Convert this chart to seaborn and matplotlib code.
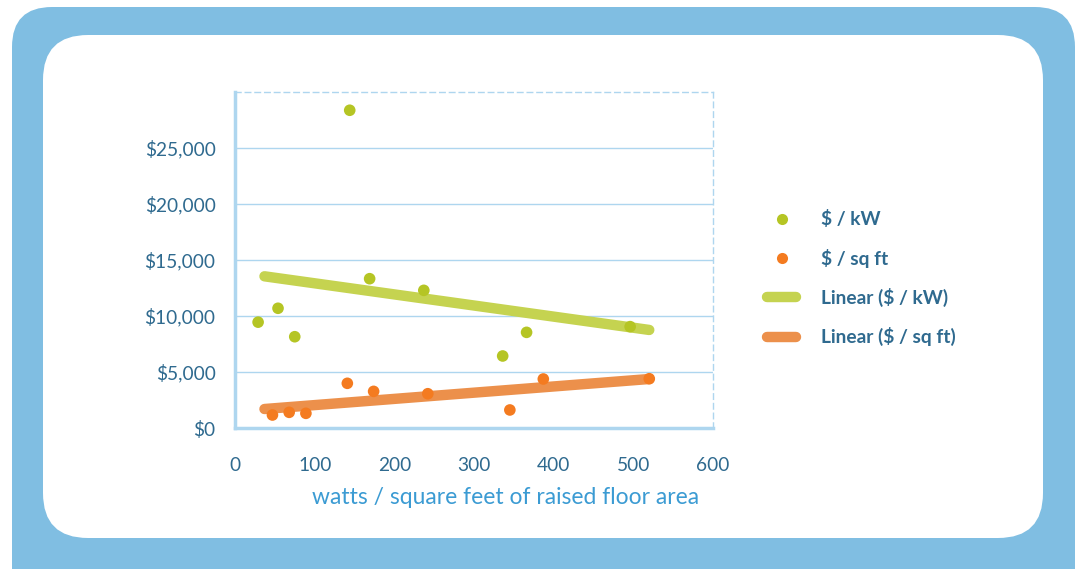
import numpy as np
import pandas as pd
import matplotlib
matplotlib.use("Agg")
import matplotlib.pyplot as plt
import seaborn as sns
from matplotlib.patches import FancyBboxPatch
from matplotlib.lines import Line2D
from matplotlib.ticker import FuncFormatter

# values
kw_watts = [29, 54, 75, 144, 169, 237, 336, 366, 496]
kw_cost = [9450, 10690, 8150, 28370, 13330, 12290, 6430, 8540, 9050]
sqft_watts = [47, 68, 89, 141, 174, 242, 345, 387, 520]
sqft_cost = [1160, 1400, 1310, 3990, 3270, 3060, 1610, 4375, 4400]

series_names = ["$ / kW", "$ / sq ft"]
trend_names = ["Linear ($ / kW)", "Linear ($ / sq ft)"]
x_ticks = [0, 100, 200, 300, 400, 500, 600]
y_ticks = [0, 5000, 10000, 15000, 20000, 25000]

point_colors = ["#b5c524", "#f47b20"]
trend_colors = ["#c5d350", "#ec904b"]
grid_blue = "#aed6ef"
text_blue = "#2f6a8f"

df = pd.concat([
    pd.DataFrame({"watts": kw_watts, "cost": kw_cost, "series": series_names[0]}),
    pd.DataFrame({"watts": sqft_watts, "cost": sqft_cost, "series": series_names[1]}),
])

sns.set_style("white")
plt.rcParams["font.family"] = ["Lato", "DejaVu Sans"]

fig = plt.figure(figsize=(10.8, 5.69), dpi=100)

# rounded blue frame behind the chart
bg = fig.add_axes([0, 0, 1, 1], zorder=-10)
bg.set_xlim(0, 1080)
bg.set_ylim(569, 0)
bg.axis("off")
bg.add_patch(FancyBboxPatch((12 + 40, 7 + 40), 1063 - 80, 650 - 80,
                            boxstyle="round,pad=40", fc="#80bee2", ec="none"))
bg.add_patch(FancyBboxPatch((43 + 45, 35 + 45), 1000 - 90, 503 - 90,
                            boxstyle="round,pad=45", fc="white", ec="none"))

ax = fig.add_axes([235 / 1080, 1 - 428 / 569, 478 / 1080, 336 / 569])
ax.set_facecolor("none")

# linear trendlines
all_x = np.array(kw_watts + sqft_watts)
xs = np.linspace(all_x.min() + 8, all_x.max(), 50)
for wx, cy, col in [(kw_watts, kw_cost, trend_colors[0]), (sqft_watts, sqft_cost, trend_colors[1])]:
    m, b = np.polyfit(wx, cy, 1)
    sns.lineplot(x=xs, y=m * xs + b, ax=ax, color=col, lw=7.5, solid_capstyle="round", zorder=2)

sns.scatterplot(data=df, x="watts", y="cost", hue="series", palette=point_colors,
                s=70, edgecolor="none", legend=False, ax=ax, zorder=3)

ax.set_xlim(0, 600)
ax.set_ylim(0, 30000)
ax.set_xticks(x_ticks)
ax.set_yticks(y_ticks)
ax.yaxis.set_major_formatter(FuncFormatter(lambda v, p: f"${v:,.0f}"))
ax.tick_params(length=0, labelsize=13.8, labelcolor=text_blue)
ax.tick_params(axis="y", pad=14)
ax.tick_params(axis="x", pad=21)
ax.grid(axis="y", color=grid_blue, lw=1)
ax.set_axisbelow(True)
for s in ["left", "bottom"]:
    ax.spines[s].set_color(grid_blue)
    ax.spines[s].set_linewidth(2.5)
for s in ["top", "right"]:
    ax.spines[s].set_visible(True)
    ax.spines[s].set_color(grid_blue)
    ax.spines[s].set_linewidth(1)
    ax.spines[s].set_linestyle((0, (4, 3)))
ax.set_xlabel("watts / square feet of raised floor area", fontsize=16.5, color="#3b9bd3", labelpad=9)
ax.xaxis.label.set_x(0.565)
ax.set_ylabel("")

handles = [
    Line2D([], [], ls="none", marker="o", ms=8, mfc=point_colors[0], mec="none"),
    Line2D([], [], ls="none", marker="o", ms=8, mfc=point_colors[1], mec="none"),
    Line2D([], [], color=trend_colors[0], lw=7.5, solid_capstyle="round"),
    Line2D([], [], color=trend_colors[1], lw=7.5, solid_capstyle="round"),
]
leg = fig.legend(handles, series_names + trend_names, loc="upper left",
                 bbox_to_anchor=(750 / 1080, 1 - 193 / 569), frameon=False,
                 labelspacing=1.06, handlelength=1.5, handletextpad=1.3,
                 prop={"size": 13.8, "weight": "bold"})
for t in leg.get_texts():
    t.set_color(text_blue)

fig.savefig("out.png", dpi=100)
